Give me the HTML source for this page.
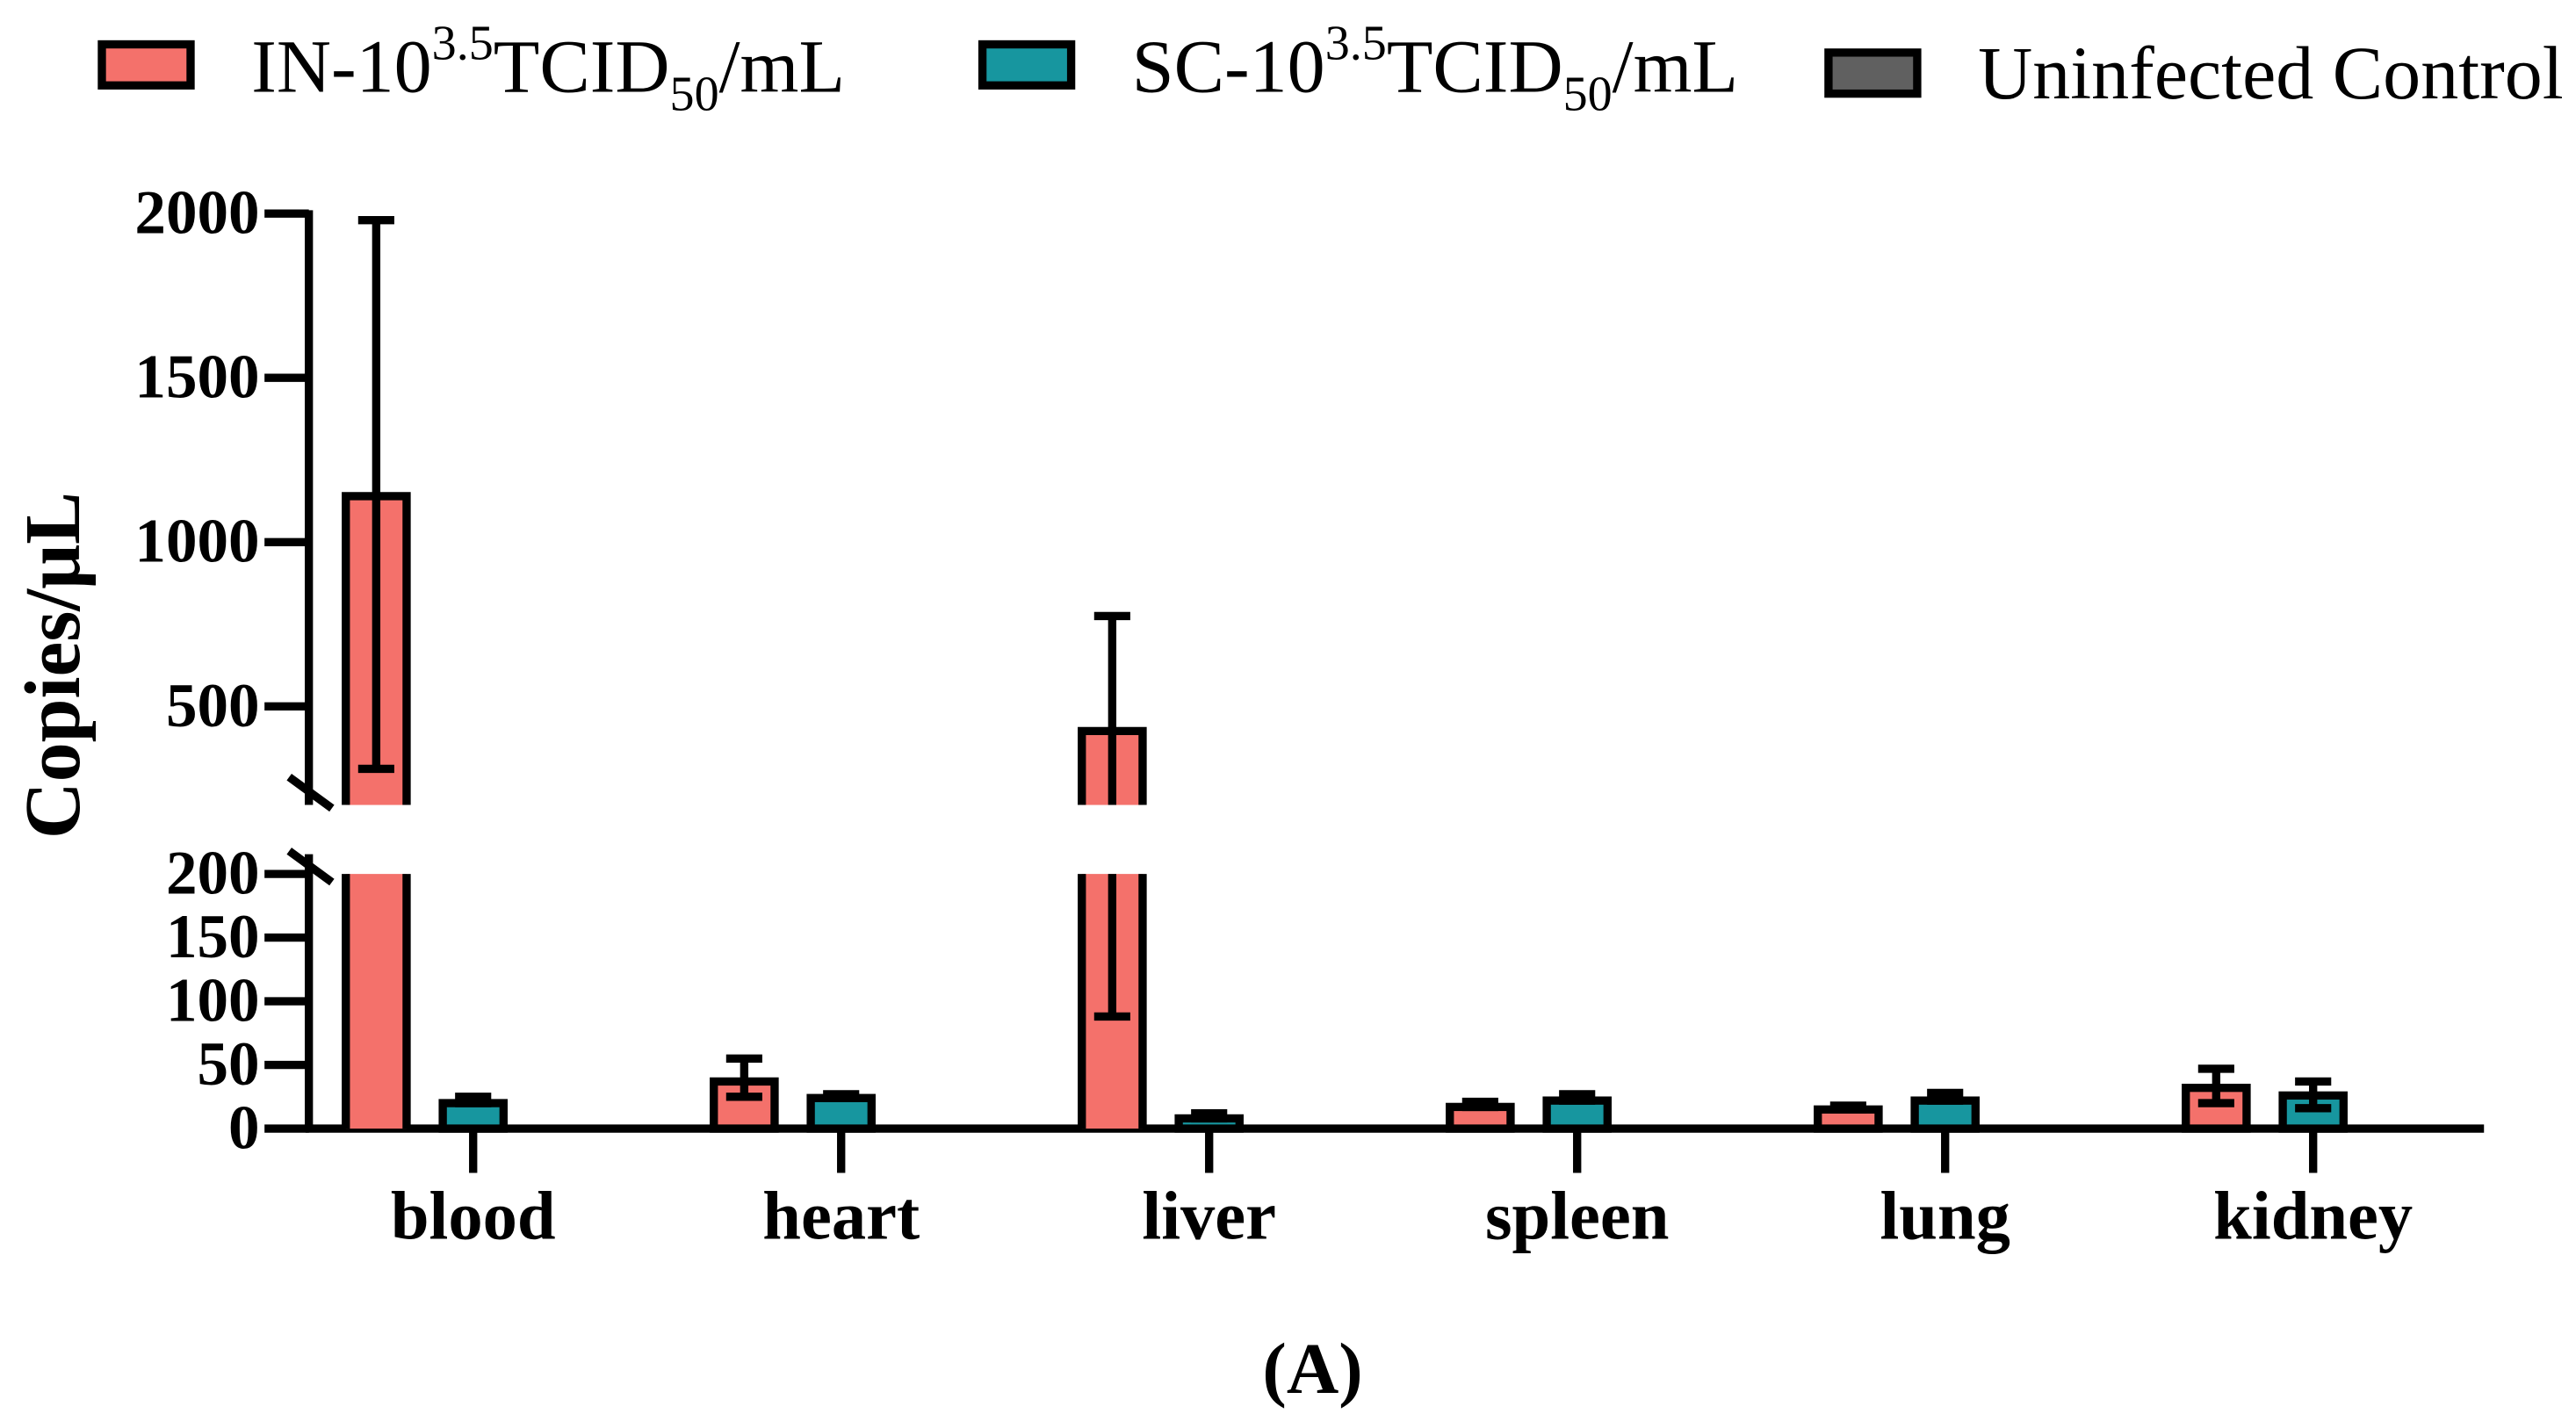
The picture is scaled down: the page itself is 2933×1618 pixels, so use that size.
<!DOCTYPE html>
<html><head><meta charset="utf-8"><style>
html,body{margin:0;padding:0;background:#fff;}
svg{display:block;}
text{font-family:"Liberation Serif",serif;fill:#000;}
</style></head><body>
<svg id="chart" width="2933" height="1618" viewBox="0 0 1568 865" xmlns="http://www.w3.org/2000/svg">
<g id="legend">
 <g>
  <rect x="62" y="27" width="54" height="25" fill="#f4716b" stroke="#000" stroke-width="5"/>
  <text x="153" y="56" font-size="46">IN-10<tspan dy="-20" font-size="30">3.5</tspan><tspan dy="20">TCID</tspan><tspan dy="11" font-size="30">50</tspan><tspan dy="-11">/mL</tspan></text>
 </g>
 <g>
  <rect x="598" y="27" width="54" height="25" fill="#17969f" stroke="#000" stroke-width="5"/>
  <text x="689" y="56" font-size="46">SC-10<tspan dy="-20" font-size="30">3.5</tspan><tspan dy="20">TCID</tspan><tspan dy="11" font-size="30">50</tspan><tspan dy="-11">/mL</tspan></text>
 </g>
 <g>
  <rect x="1113" y="32" width="54" height="25" fill="#606060" stroke="#000" stroke-width="5"/>
  <text x="1204" y="60" font-size="46">Uninfected Control</text>
 </g>
</g>
<g id="axes"></g>
<g id="bars"></g>
<text transform="translate(48,405) rotate(-90)" text-anchor="middle" font-size="48" font-weight="bold">Copies/μL</text>
<text x="799" y="848" text-anchor="middle" font-size="44" font-weight="bold">(A)</text>
</svg>
<script>
const categories=["blood","heart","liver","spleen","lung","kidney"];
const inMean=[1140,37,425,17,15,32];
const inLow=[310,25,88,17,15,20];
const inHigh=[1980,55,775,21,18,47];
const scMean=[20,24,8,22,22,26];
const scHigh=[25,27,12,27,28,37];
const scLow=[20,24,8,22,22,16];
const ctrlMean=[0,0,0,0,0,0];
const upperTicks=[500,1000,1500,2000];
const lowerTicks=[0,50,100,150,200];

const NS="http://www.w3.org/2000/svg";
const axesG=document.getElementById('axes');
const barsG=document.getElementById('bars');
const X0=188,X1=1512,groupW=224,firstCenter=288,off=59,bw=37;
const BREAK_LO=200;
function yLow(v){return 687-v*0.775;}
function yUp(v){return 490-(v-200)*0.2;}
function yVal(v){return v<=BREAK_LO?yLow(v):yUp(v);}
function xGroup(i){return firstCenter+i*groupW;}
function mk(tag,attrs,parent){const e=document.createElementNS(NS,tag);for(const k in attrs)e.setAttribute(k,attrs[k]);parent.appendChild(e);return e;}

let ax=mk('line',{x1:X0,y1:yUp(2000)-2,x2:X0,y2:yUp(200),stroke:'#000','stroke-width':5},axesG);


ax=mk('line',{x1:X0,y1:yLow(200)-12,x2:X0,y2:yLow(0)+2,stroke:'#000','stroke-width':5},axesG);


ax=mk('line',{x1:X0-2,y1:yLow(0),x2:X1,y2:yLow(0),stroke:'#000','stroke-width':5},axesG);


[[473,492],[518,537]].forEach(function(p){
 const b=mk('line',{x1:176,y1:p[0],x2:202,y2:p[1],stroke:'#000','stroke-width':5},axesG);
 
 
});
function ytick(v,y){
 const l=mk('line',{x1:X0-27,y1:y,x2:X0,y2:y,stroke:'#000','stroke-width':5},axesG);
 
 
 const t=mk('text',{x:X0-30,y:y+12,'text-anchor':'end','font-size':38,'font-weight':'bold'},axesG);
 t.textContent=v;
 
 
}
upperTicks.forEach(v=>ytick(v,yUp(v)));
lowerTicks.forEach(v=>ytick(v,yLow(v)));
categories.forEach(function(c,i){
 const x=xGroup(i);
 const l=mk('line',{x1:x,y1:yLow(0),x2:x,y2:yLow(0)+27,stroke:'#000','stroke-width':5},axesG);
 
 
 const t=mk('text',{x:x,y:754,'text-anchor':'middle','font-size':42,'font-weight':'bold'},axesG);
 t.textContent=c;
 
 
});

function drawBar(cx,v,color,name){
 const yb=yLow(0);
 if(v<=BREAK_LO){
  const r=mk('rect',{x:cx-bw/2,y:yVal(v),width:bw,height:yb-yVal(v),fill:color,stroke:'#000','stroke-width':5},barsG);
  
  
 } else {
  const r=mk('rect',{x:cx-bw/2,y:yLow(200),width:bw,height:yb-yLow(200),fill:color},barsG);
  
  
  const p=mk('path',{d:`M${cx-bw/2},${yLow(200)} V${yb} M${cx+bw/2},${yLow(200)} V${yb}`,stroke:'#000','stroke-width':5,fill:'none'},barsG);
  
  
  const r2=mk('rect',{x:cx-bw/2,y:yUp(v),width:bw,height:yUp(200)-yUp(v),fill:color},barsG);
  
  
  const p2=mk('path',{d:`M${cx-bw/2},${yUp(200)} V${yUp(v)} H${cx+bw/2} V${yUp(200)}`,stroke:'#000','stroke-width':5,fill:'none'},barsG);
  
  
 }
}
function drawErr(cx,lo,hi,name){
 const segs=[];
 function seg(a,b){
  if(b<=BREAK_LO) segs.push([yLow(a),yLow(b)]);
  else if(a>=BREAK_LO) segs.push([yUp(a),yUp(b)]);
  else {segs.push([yLow(a),yLow(BREAK_LO)]);segs.push([yUp(BREAK_LO),yUp(b)]);}
 }
 seg(lo,hi);
 let d=segs.map(s=>`M${cx},${s[0]} V${s[1]}`).join(' ');
 d+=` M${cx-11},${yVal(hi)} H${cx+11} M${cx-11},${yVal(lo)} H${cx+11}`;
 const p=mk('path',{d:d,stroke:'#000','stroke-width':5,fill:'none'},barsG);
 
 
}
categories.forEach(function(c,i){
 const x=xGroup(i);
 drawBar(x-off,inMean[i],'#f4716b','bar-in-'+c);
 drawErr(x-off,inLow[i],inHigh[i],'error-in-'+c);
 drawBar(x,scMean[i],'#17969f','bar-sc-'+c);
 drawErr(x,scLow[i],scHigh[i],'error-sc-'+c);
 if(ctrlMean[i]>0) drawBar(x+off,ctrlMean[i],'#606060','bar-control-'+c);
});
</script>
</body></html>
